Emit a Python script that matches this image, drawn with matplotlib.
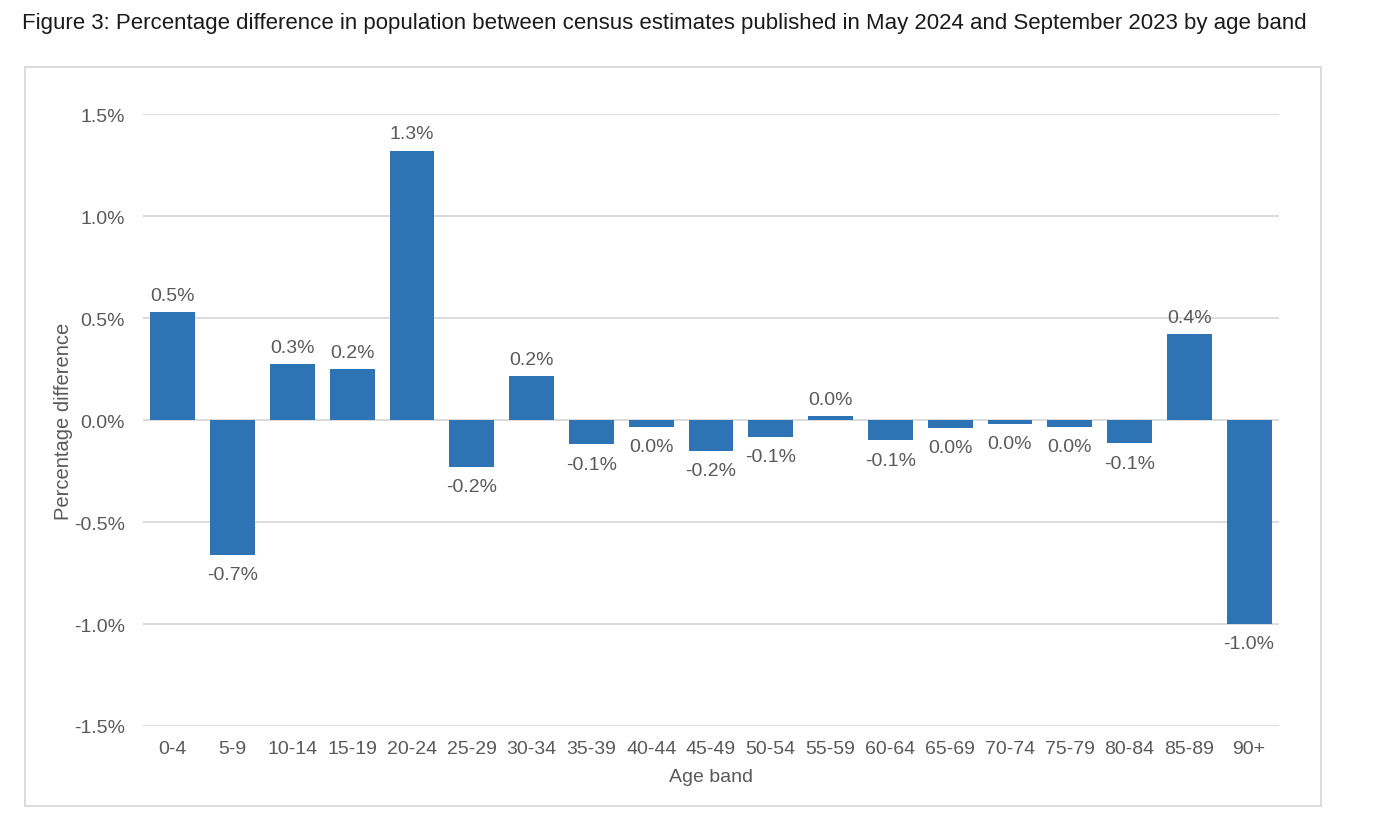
import matplotlib
matplotlib.use("Agg")
import matplotlib.pyplot as plt
from matplotlib.patches import Rectangle
from matplotlib.ticker import FuncFormatter, MultipleLocator

age_bands = ["0-4", "5-9", "10-14", "15-19", "20-24", "25-29", "30-34", "35-39",
             "40-44", "45-49", "50-54", "55-59", "60-64", "65-69", "70-74", "75-79",
             "80-84", "85-89", "90+"]
pct_diff = [0.53, -0.66, 0.275, 0.25, 1.32, -0.23, 0.215, -0.12, -0.035, -0.15,
            -0.085, 0.02, -0.10, -0.04, -0.02, -0.035, -0.115, 0.42, -1.0]
value_labels = ["0.5%", "-0.7%", "0.3%", "0.2%", "1.3%", "-0.2%", "0.2%", "-0.1%",
                "0.0%", "-0.2%", "-0.1%", "0.0%", "-0.1%", "0.0%", "0.0%", "0.0%",
                "-0.1%", "0.4%", "-1.0%"]

plt.rcParams['font.family'] = ['Liberation Sans', 'DejaVu Sans']
grey = "#595959"
bar_color = "#2E74B5"
fs = 14

fig = plt.figure(figsize=(13.8, 8.28), dpi=100)
ax = fig.add_axes([143/1380, 1-727/828, (1279-143)/1380, (727-115)/828])

x = list(range(len(age_bands)))
ax.bar(x, pct_diff, width=0.75, color=bar_color, zorder=3)

ax.set_ylim(-1.5, 1.5)
ax.set_xlim(-0.5, len(age_bands) - 0.5)
ax.yaxis.set_major_locator(MultipleLocator(0.5))
ax.yaxis.set_major_formatter(FuncFormatter(lambda v, p: f"{v:.1f}%"))
ax.grid(axis='y', color="#D9D9D9", linewidth=1.3, zorder=0)
for s in ax.spines.values():
    s.set_visible(False)
ax.tick_params(axis='y', length=0, labelsize=fs, colors=grey, pad=13)
ax.tick_params(axis='x', length=0, labelsize=fs, colors=grey, pad=10)
ax.set_xticks(x)
ax.set_xticklabels(age_bands)

for xi, v, lab in zip(x, pct_diff, value_labels):
    if v >= 0:
        ax.annotate(lab, (xi, v), xytext=(0, 6), textcoords="offset points",
                    ha="center", va="bottom", fontsize=fs, color=grey)
    else:
        ax.annotate(lab, (xi, v), xytext=(0, -8), textcoords="offset points",
                    ha="center", va="top", fontsize=fs, color=grey)

ax.set_ylabel("Percentage difference", fontsize=14.5, color=grey, labelpad=1)
ax.set_xlabel("Age band", fontsize=fs, color=grey, labelpad=8)

fig.patches.append(Rectangle((25/1380, 1-807/828), (1321-25)/1380, (807-68)/828,
                             transform=fig.transFigure, fill=False,
                             edgecolor="#D9D9D9", linewidth=1.3))

fig.text(22/1380, 1-23/828, "Figure 3: Percentage difference in population between census estimates published in May 2024 and September 2023 by age band",
         fontsize=16, color="#1a1a1a", ha="left", va="center")

fig.savefig("out.png", dpi=100)
